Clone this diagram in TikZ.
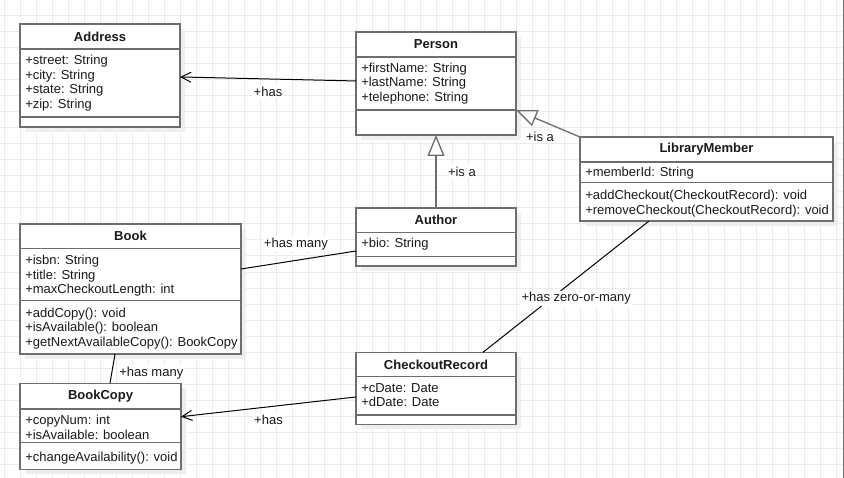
\documentclass[tikz,border=0pt]{standalone}
\usepackage{fontspec}
\setmainfont{Liberation Sans}
\usetikzlibrary{arrows.meta,fit}

\definecolor{gridc}{HTML}{EBEBEB}
\definecolor{boxc}{HTML}{6E6E6E}
\definecolor{shadowc}{HTML}{EEEEEE}
\definecolor{inkc}{HTML}{1A1A1A}

\tikzset{
  gridline/.style={draw=gridc, line width=0.75pt},
  boxshadow/.style={fill=shadowc},
  classbox/.style={draw=boxc, line width=1pt, fill=white, inner sep=0pt, outer sep=0pt},
  classrule/.style={draw=boxc, line width=1pt},
  classtitle/.style={font=\bfseries\fontsize{9.75}{11}\selectfont, text=inkc, inner sep=0pt},
  member/.style={font=\fontsize{9.75}{11}\selectfont, text=inkc, inner sep=0pt, anchor=base west},
  edgelabel/.style={font=\fontsize{9.75}{11}\selectfont, text=inkc, fill=white, inner sep=1pt},
  assoc/.style={draw=black, line width=0.75pt},
  navarrow/.style={-{Straight Barb[length=7.5pt,width=7.5pt]}},
  general/.style={draw=boxc, line width=1pt,
    -{Triangle[open,length=15.75pt,width=12.75pt,fill=white]}},
}

% class box: name, left, top, right, bottom, header rule y, attribute rule y, title
\newcommand\umlclass[8]{%
  \fill[boxshadow] (#2+5,#3+5) rectangle (#4+5,#5+5);
  \node[classbox, fit={(#2,#3) (#4,#5)}] (#1) {};
  \draw[classrule] (#2,#6) -- (#4,#6);
  \draw[classrule] (#2,#7) -- (#4,#7);
  \node[classtitle] (#1-title) at ({(#2+#4)/2},{(#3+#6)/2}) {#8};
}

% compartment lines: name, text x, centre y of first line, list of lines
\newcommand\umlmembers[4]{%
  \foreach \txt [count=\i] in {#4} {
    \node[member] (#1-\i) at (#2,{#3+4.5+(\i-1)*14.7}) {\txt};
  }
}

\begin{document}
\begin{tikzpicture}[x=0.75pt,y=-0.75pt]
  \useasboundingbox (0,0) rectangle (844,478);
  \fill[white] (0,0) rectangle (844,478);

  % background grid
  \foreach \gx in {4,20,...,836} \draw[gridline] (\gx,0) -- (\gx,478);
  \foreach \gy in {16,32,...,464} \draw[gridline] (0,\gy) -- (844,\gy);
  \draw[draw=black!55, line width=0.75pt] (843.5,0) -- (843.5,478);

  % classes
  \umlclass{address}{20}{24}{180}{127}{49}{117}{Address}
  \umlmembers{address-attr}{25}{60}{{+street: String},{+city: String},{+state: String},{+zip: String}}

  \umlclass{person}{356}{32}{516}{135}{57}{110}{Person}
  \umlmembers{person-attr}{361}{67.7}{{+firstName: String},{+lastName: String},{+telephone: String}}

  \umlclass{author}{356}{208}{516}{266}{232.7}{256.7}{Author}
  \umlmembers{author-attr}{361}{243.3}{{+bio: String}}

  \umlclass{lm}{580}{137}{833}{221}{162}{182.3}{LibraryMember}
  \umlmembers{lm-attr}{585}{171.7}{{+memberId: String}}
  \umlmembers{lm-op}{585}{195}{{+addCheckout(CheckoutRecord): void},{+removeCheckout(CheckoutRecord): void}}

  \umlclass{book}{20}{224}{241}{354}{248.3}{300.7}{Book}
  \umlmembers{book-attr}{25}{260}{{+isbn: String},{+title: String},{+maxCheckoutLength: int}}
  \umlmembers{book-op}{25}{312.7}{{+addCopy(): void},{+isAvailable(): boolean},{+getNextAvailableCopy(): BookCopy}}

  \umlclass{copy}{20}{383.3}{181}{469.3}{409}{442.3}{BookCopy}
  \umlmembers{copy-attr}{25}{420}{{+copyNum: int},{+isAvailable: boolean}}
  \umlmembers{copy-op}{25}{457.3}{{+changeAvailability(): void}}

  \umlclass{record}{356}{352.3}{516}{424.3}{376.7}{415}{CheckoutRecord}
  \umlmembers{record-attr}{361}{387.7}{{+cDate: Date},{+dDate: Date}}

  % associations
  \draw[assoc, navarrow] ([yshift=1.9pt]person.west)
    -- node[edgelabel, yshift=-9.75pt] (lbl-address) {+has} ([yshift=-1.1pt]address.east);

  \draw[assoc] ([yshift=15pt]book.east)
    -- node[edgelabel, xshift=-1.9pt, yshift=12pt] (lbl-writes) {+has many} ([yshift=-10.5pt]author.west);

  \draw[assoc] ([xshift=-11.6pt]book.south)
    -- node[edgelabel, anchor=west, xshift=3.75pt, yshift=-3.4pt] (lbl-copies) {+has many} ([xshift=7.1pt]copy.north);

  \draw[assoc] ([xshift=-43.1pt]lm.south)
    -- node[edgelabel, pos=0.589, xshift=18.75pt] (lbl-records) {+has zero-or-many} ([xshift=35.25pt]record.north);

  \draw[assoc, navarrow] ([yshift=-6.5pt]record.west)
    -- node[edgelabel, yshift=-9.9pt] (lbl-copy) {+has} ([yshift=7.2pt]copy.east);

  % generalizations
  \draw[general] (author.north)
    -- node[edgelabel, anchor=west, xshift=7.5pt] (lbl-isa-author) {+is a} (person.south);

  \draw[general] (lm.north west)
    -- node[edgelabel, xshift=-6pt, yshift=-10.1pt] (lbl-isa-member) {+is a} ([yshift=18.75pt]person.south east);
\end{tikzpicture}
\end{document}
